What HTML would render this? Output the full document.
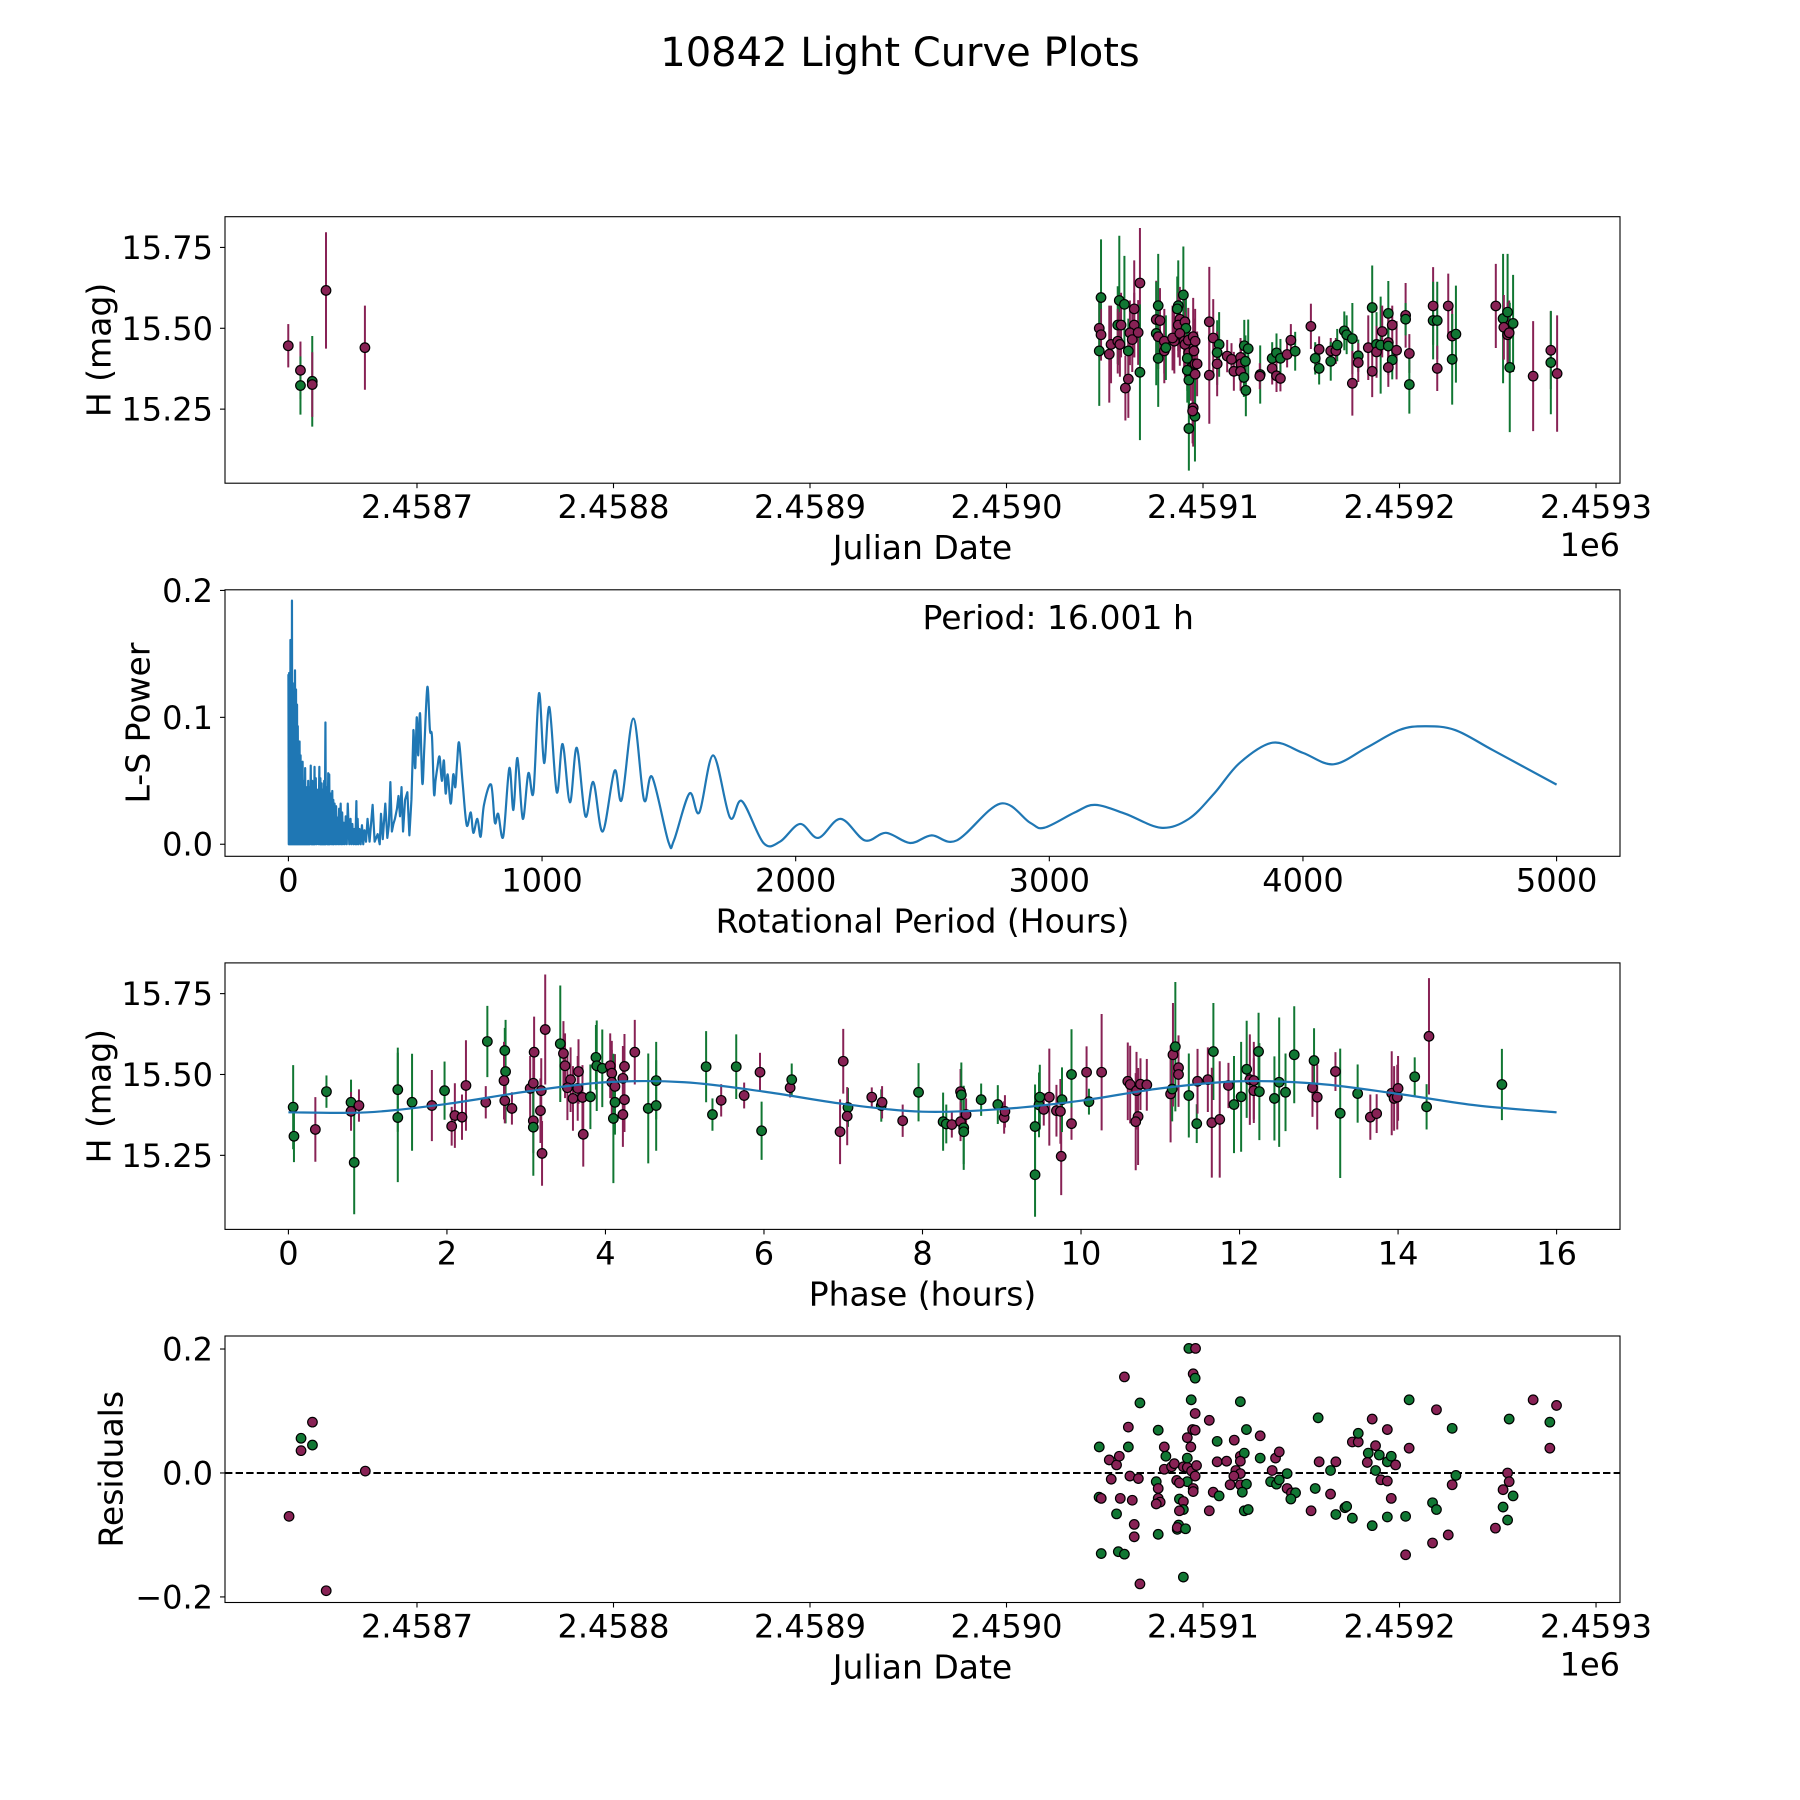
<!DOCTYPE html>
<html><head><meta charset="utf-8"><title>10842 Light Curve Plots</title>
<style>
html,body{margin:0;padding:0;background:#fff;}
svg{display:block;font-family:"DejaVu Sans","Liberation Sans",sans-serif;}
</style></head>
<body>
<svg id="fig" xmlns="http://www.w3.org/2000/svg" width="1800" height="1800" viewBox="0 0 1800 1800">
<rect x="0" y="0" width="1800" height="1800" fill="#fff"/>
<text x="900" y="66" font-size="40" text-anchor="middle" fill="#000">10842 Light Curve Plots</text>
</svg>
<script>
// ---------- DATA ----------
const lcDay = [-365.5,-359.3,-359.3,-353.3,-353.3,-346.3,-326.5,
48.1,47.2,48.1,47.2,52.3,53.2,57.4,56.6,58.3,56.6,57.7,60,62,60.5,62,65,65,62.8,64,67,67.9,67.9,
77.2,76.2,78.1,76.2,77.2,77.2,80.3,80.3,81.1,85.4,84.5,87.4,86.9,88.2,87.4,90.8,91.3,88.2,90.4,90.8,90,
92.5,95,96,92.7,95.4,92,93.7,95.9,97,92,92.8,96,95,95.9,92.8,94.7,103.2,103.2,105.2,108.2,107.2,107.2,
112.3,114.5,115.7,121,123,119.1,119.3,121.6,119.1,120.8,121.8,129.1,128.9,135.2,137.4,135.2,137.4,139.4,139.4,
142.8,144.7,146.9,154.9,157.1,159.1,159.1,165,165,167.6,
168.3,171.9,173.1,176,176,179,179,184.1,186.1,186.1,188.3,188.3,190.4,191.2,194.3,194.3,194.3,196.3,196.3,194.3,
198.5,203.1,203.1,205,205,217.1,217.1,219.2,219.2,224.8,226.8,228.7,226.8,249,252.7,255,253.1,255,255.8,257.8,256.1,
268,277,277,280.2];
const lcMag = [15.446,15.37,15.323,15.336,15.326,15.617,15.44,
15.595,15.50,15.48,15.43,15.42,15.45,15.586,15.51,15.51,15.46,15.45,15.574,15.43,15.315,15.343,15.56,15.51,15.486,15.465,15.487,15.64,15.364,
15.57,15.527,15.524,15.484,15.474,15.407,15.46,15.43,15.44,15.46,15.47,15.57,15.56,15.528,15.51,15.52,15.50,15.484,15.46,15.45,15.603,
15.463,15.474,15.46,15.424,15.43,15.407,15.376,15.39,15.39,15.37,15.34,15.358,15.254,15.228,15.19,15.244,15.52,15.355,15.47,15.45,15.425,15.39,
15.414,15.404,15.367,15.446,15.437,15.41,15.39,15.398,15.367,15.348,15.308,15.357,15.352,15.407,15.424,15.376,15.353,15.345,15.407,
15.419,15.463,15.429,15.506,15.407,15.435,15.376,15.43,15.398,15.43,
15.448,15.492,15.48,15.468,15.33,15.415,15.394,15.44,15.564,15.367,15.45,15.427,15.448,15.49,15.546,15.456,15.445,15.51,15.402,15.379,
15.432,15.54,15.528,15.422,15.326,15.569,15.524,15.524,15.376,15.569,15.476,15.482,15.404,15.569,15.53,15.55,15.503,15.48,15.486,15.515,15.379,
15.352,15.432,15.394,15.36];
const lcErr = [0.067,0.089,0.09,0.14,0.1,0.18,0.13,
0.18,0.09,0.08,0.17,0.15,0.12,0.2,0.12,0.1,0.1,0.1,0.15,0.1,0.1,0.12,0.15,0.1,0.1,0.1,0.1,0.17,0.21,
0.16,0.12,0.1,0.16,0.1,0.15,0.1,0.1,0.1,0.1,0.1,0.14,0.1,0.1,0.1,0.1,0.1,0.1,0.1,0.1,0.15,
0.1,0.12,0.1,0.1,0.1,0.1,0.1,0.1,0.1,0.1,0.1,0.1,0.12,0.14,0.13,0.1,0.17,0.15,0.12,0.1,0.1,0.1,
0.05,0.05,0.06,0.08,0.09,0.06,0.06,0.08,0.06,0.06,0.08,0.09,0.04,0.05,0.06,0.05,0.05,0.04,0.06,
0.04,0.05,0.06,0.07,0.05,0.04,0.05,0.04,0.06,0.04,
0.05,0.06,0.06,0.11,0.1,0.05,0.06,0.1,0.13,0.08,0.1,0.08,0.15,0.08,0.1,0.1,0.06,0.06,0.06,0.06,
0.09,0.1,0.05,0.06,0.09,0.12,0.12,0.12,0.07,0.1,0.09,0.15,0.14,0.13,0.2,0.18,0.1,0.1,0.1,0.15,0.2,
0.17,0.12,0.16,0.18];
const lcBand = [0,0,1,1,0,0,0,
1,0,0,1,0,0,1,1,0,0,0,1,1,0,0,0,0,0,0,0,0,1,
1,0,0,1,0,1,0,0,1,0,0,1,1,0,0,0,1,0,0,0,1,
0,0,0,0,0,1,0,0,0,1,1,0,0,1,1,0,0,0,0,1,1,0,
0,0,0,1,1,0,0,1,0,1,1,1,0,1,1,0,0,0,1,
0,0,1,0,1,0,1,0,1,0,
1,1,1,1,0,1,0,0,1,0,1,0,1,0,1,0,1,0,1,0,
0,0,1,0,1,0,1,1,0,0,0,1,1,0,1,1,0,0,0,1,1,
0,0,1,0];

// Panel 2: Lomb-Scargle periodogram
const lsPeriod = [0,1.5,3,4.5,6,7,8,9,10.5,11.5,
12,13,14,15.5,17,18,19,20.5,22,24,
26,28,30,32,34,35.5,37,38.5,40,42,
44,46,48,50,52,54,56,58,60,63,
66,68,70,72,74,76,78,80,82,85,
88,91,94,96,98,100,103,105,108,111,
114,118,122,124,126,128,131,133,136,138,
141,143,146,148,151,154,157,159,161,163,
166,169,173,175,177,179,182,185,188,191,
194,197,200,203,206,209,212,215,218,222,
226,230,234,240,245,248,252,256,260,264,
268,270,273,276,280,285,290,295,300,306,
312,
320,332,340,352,360,365,372,382,390,396,402,408,414,420,428,434,440,446,452,460,469,477,485,493,500,506,512,519,528,536,548,558,566,574,580,587,596,605,613,620,628,640,650,658,665,673,687,703,719,729,745,758,771,799,814,827,847,871,887,903,924,946,966,988,1008,1029,1058,1081,1110,1137,1171,1202,1239,1286,1314,1360,1402,1434,1498,1520,1581,1620,1675,1741,1788,1873,1938,2017,2089,2177,2273,2356,2451,2536,2635,2806,2924,2980,3100,3180,3300,3440,3550,3650,3750,3880,4000,4120,4250,4380,4480,4600,4750,5000];
const lsPower = [0.134,0,0.135,0,0.12,0,0.161,0,0.161,0,
0.15,0,0.192,0,0.127,0,0.11,0,0.093,0,
0.137,0,0.122,0,0.11,0,0.093,0,0.08,0,
0.081,0,0.07,0,0.058,0,0.065,0,0.05,0,
0.06,0,0.037,0,0.045,0,0.05,0,0.045,0,
0.062,0,0.05,0,0.03,0,0.061,0,0.052,0,
0.043,0,0.061,0,0.052,0,0.048,0,0.043,0,
0.05,0,0.096,0,0.045,0,0.056,0,0.055,0,
0.04,0,0.042,0,0.035,0,0.032,0,0.03,0,
0.021,0,0.028,0,0.032,0,0.025,0,0.017,0,
0.022,0,0.032,0,0.02,0,0.016,0,0.012,0,
0.034,0,0.02,0,0.012,0,0.015,0,0.011,0.002,
0.02,
0.002,0.031,0.002,0.008,0.0,0.024,0.004,0.032,0.005,0.015,0.049,0.01,0.016,0.02,0.028,0.038,0.022,0.045,0.01,0.035,0.041,0.007,0.035,0.09,0.06,0.1,0.07,0.103,0.048,0.077,0.124,0.09,0.085,0.04,0.05,0.06,0.069,0.05,0.066,0.04,0.055,0.032,0.055,0.045,0.064,0.08,0.048,0.015,0.025,0.009,0.02,0.006,0.031,0.047,0.017,0.024,0.006,0.06,0.027,0.068,0.02,0.056,0.041,0.119,0.064,0.108,0.041,0.079,0.033,0.076,0.022,0.049,0.01,0.058,0.035,0.099,0.035,0.053,0.002,0.003,0.04,0.025,0.07,0.021,0.034,0.001,0.002,0.016,0.005,0.02,0.003,0.009,0.001,0.007,0.003,0.032,0.017,0.013,0.025,0.031,0.024,0.013,0.02,0.04,0.064,0.08,0.072,0.063,0.076,0.09,0.093,0.09,0.074,0.047];

// Panel 3
const phHour = [0.06,0.07,0.34,0.48,0.79,0.79,0.89,0.83,1.38,1.38,1.56,1.81,1.97,2.06,2.1,2.19,2.24,2.51,2.49,2.73,2.74,2.72,2.73,2.82,3.05,3.09,3.1,3.19,3.18,3.09,3.09,3.24,3.2,3.43,3.47,3.49,3.56,3.52,3.59,3.65,3.66,3.71,3.72,3.81,3.88,3.89,3.96,4.06,4.08,4.08,4.12,4.12,4.1,4.22,4.24,4.24,4.22,4.37,4.54,4.64,4.64,5.27,5.35,5.46,5.65,5.75,5.95,5.97,6.33,6.35,7.0,6.96,7.06,7.05,7.36,7.48,7.49,7.75,7.95,
8.26,8.3,8.37,8.48,8.49,8.48,8.55,8.52,8.52,8.74,8.95,9.03,9.04,9.42,9.42,9.47,9.48,9.53,9.6,9.69,9.74,9.75,9.76,9.88,9.88,10.1,10.07,10.26,10.59,10.62,10.7,10.72,10.69,10.75,10.83,11.13,11.15,11.16,11.19,11.23,11.23,11.36,11.46,11.47,11.6,11.67,11.65,11.75,11.86,11.93,12.02,12.09,12.13,12.18,12.18,12.24,12.25,12.44,12.5,12.58,12.69,12.94,12.92,12.98,13.21,13.27,13.49,13.65,13.73,13.92,13.95,14.0,13.99,14.21,14.36,14.39,15.31];
const phMag = [15.399,15.309,15.33,15.447,15.414,15.386,15.404,15.228,15.453,15.367,15.414,15.404,15.45,15.34,15.373,15.368,15.466,15.602,15.414,15.574,15.509,15.481,15.419,15.395,15.457,15.473,15.569,15.45,15.388,15.357,15.337,15.639,15.256,15.595,15.565,15.527,15.484,15.459,15.426,15.457,15.509,15.429,15.315,15.431,15.553,15.527,15.519,15.527,15.504,15.476,15.463,15.414,15.364,15.488,15.525,15.422,15.376,15.569,15.395,15.481,15.404,15.524,15.376,15.42,15.524,15.435,15.507,15.326,15.459,15.484,15.541,15.323,15.398,15.371,15.43,15.404,15.414,15.357,15.445,
15.354,15.347,15.345,15.447,15.437,15.354,15.376,15.335,15.323,15.422,15.407,15.367,15.386,15.339,15.19,15.406,15.43,15.392,15.43,15.388,15.386,15.247,15.422,15.5,15.348,15.416,15.507,15.507,15.479,15.469,15.45,15.37,15.354,15.47,15.468,15.44,15.455,15.561,15.586,15.521,15.5,15.435,15.348,15.479,15.484,15.571,15.351,15.361,15.466,15.407,15.431,15.516,15.484,15.481,15.45,15.571,15.447,15.426,15.476,15.445,15.561,15.543,15.459,15.43,15.509,15.38,15.441,15.368,15.379,15.442,15.426,15.457,15.43,15.493,15.4,15.618,15.469];
const phErr = [0.13,0.08,0.1,0.05,0.07,0.06,0.05,0.16,0.13,0.2,0.15,0.11,0.09,0.06,0.1,0.07,0.14,0.11,0.05,0.07,0.16,0.12,0.07,0.05,0.1,0.1,0.11,0.1,0.1,0.1,0.15,0.17,0.1,0.18,0.1,0.1,0.1,0.1,0.1,0.1,0.1,0.1,0.1,0.1,0.1,0.14,0.12,0.1,0.1,0.1,0.1,0.1,0.2,0.1,0.1,0.1,0.1,0.1,0.17,0.12,0.14,0.11,0.05,0.05,0.1,0.04,0.06,0.09,0.03,0.05,0.1,0.1,0.06,0.09,0.03,0.05,0.05,0.05,0.09,
0.09,0.06,0.04,0.07,0.1,0.06,0.05,0.13,0.1,0.05,0.06,0.05,0.05,0.13,0.13,0.1,0.1,0.05,0.15,0.08,0.1,0.12,0.1,0.14,0.05,0.04,0.08,0.18,0.12,0.12,0.12,0.15,0.15,0.08,0.08,0.15,0.1,0.16,0.2,0.1,0.1,0.13,0.06,0.1,0.1,0.15,0.17,0.18,0.07,0.15,0.17,0.15,0.14,0.12,0.1,0.12,0.15,0.13,0.2,0.12,0.15,0.1,0.09,0.1,0.06,0.2,0.09,0.07,0.06,0.13,0.1,0.1,0.1,0.06,0.07,0.18,0.11];
const phBand = [1,1,0,1,1,0,0,1,1,1,1,0,1,0,0,0,0,1,0,1,1,0,0,0,0,0,0,0,0,0,1,0,0,1,0,0,0,0,0,0,0,0,0,1,1,1,1,0,0,0,0,1,1,0,0,0,0,0,1,1,1,1,1,0,1,0,0,1,0,1,0,0,1,0,0,1,0,0,1,
1,1,0,0,1,0,0,1,1,1,1,0,0,1,1,1,1,0,0,0,0,0,1,1,0,1,0,0,0,0,0,0,0,0,0,0,1,0,1,0,0,1,1,0,0,1,0,0,0,1,1,1,0,0,0,1,1,1,1,1,1,1,0,0,0,1,1,0,0,0,0,0,0,1,1,0,1];
const modelPhase = [0,1,2,3,4,5,6,7,8,9,10,11,12,13,14,15,16];
const modelMag = [15.383,15.383,15.409,15.447,15.476,15.476,15.447,15.409,15.385,15.393,15.419,15.457,15.479,15.471,15.44,15.404,15.383];

// Panel 4
const resDay = [-365.1,-359,-359,-353.2,-353.2,-346.2,-326.3,
47.2,52.3,56,57.4,62,62,60,53.3,62.8,67.1,47.1,48.2,57.9,64,56,65,65,48.2,56.9,60,67.9,67.9,77.2,80.3,81.1,80.3,84,85.4,90,92,92,92,93.8,94.7,96,96,94,95,96,92.8,96.2,94.2,96.7,96,92,86.6,88,95,95,76.2,77.2,77.2,78.2,76.2,88,90,90,88,87.6,86.9,86.9,91.1,77.2,90,
103.2,103.2,105.2,108.2,107.2,107.2,112,115.9,119,122.1,119,121,119,116.7,119,115.7,113.8,119,122.1,120,121,123,129.1,129.1,136.9,138.8,135.2,142.8,134.4,137.4,138.8,142.8,145,147.1,144.7,158.6,159.1,157.1,155,164.9,167.6,164.9,167.6,
172.2,173.1,176,176,179,179,186.1,184.1,183.6,187.8,189.7,187.8,190.5,193.8,193.8,195.8,198,193.8,186.1,193.8,195.8,204.9,204.9,203.1,203.1,218.8,226.8,228.7,226.8,216.8,218.8,216.8,224.8,255.8,255,255.8,252.7,257.8,252.7,255,248.8,268,279.9,276.5,276.5];
const resVal = [-0.07,0.056,0.036,0.082,0.045,-0.19,0.003,
0.042,0.021,0.013,0.027,0.042,0.074,0.155,-0.01,-0.005,-0.009,-0.039,-0.041,-0.041,-0.044,-0.066,-0.083,-0.103,-0.13,-0.127,-0.131,-0.179,0.113,0.069,0.042,0.027,0.006,0.01,0.015,0.01,0.009,0.024,0.057,0.042,0.07,0.069,0.096,0.118,0.16,0.153,0.201,0.201,0.003,0.012,-0.005,-0.014,-0.012,-0.016,-0.025,-0.03,-0.014,-0.025,-0.041,-0.047,-0.05,-0.042,-0.046,-0.059,-0.061,-0.084,-0.091,-0.088,-0.09,-0.099,-0.168,
0.085,-0.061,-0.031,-0.037,0.051,0.018,0.019,0.053,0.115,0.07,0.027,0.032,0.019,0.004,-0.001,-0.005,-0.019,-0.019,-0.018,-0.031,-0.061,-0.059,0.06,0.024,0.024,0.034,0.004,-0.001,-0.014,-0.018,-0.011,-0.025,-0.032,-0.032,-0.042,0.089,0.018,-0.025,-0.061,0.004,0.018,-0.034,-0.067,
-0.056,-0.054,-0.073,0.05,0.05,0.064,0.087,0.032,0.017,0.044,0.029,0.004,-0.011,-0.013,0.018,0.027,0.013,0.07,-0.085,-0.071,-0.041,0.118,0.04,-0.07,-0.132,0.102,0.072,-0.004,-0.019,-0.048,-0.059,-0.113,-0.1,0.087,0,-0.014,-0.027,-0.037,-0.055,-0.076,-0.089,0.118,0.109,0.082,0.04];
const resBand = [0,1,0,0,1,0,0,
1,0,0,0,1,0,0,0,0,0,1,0,0,0,1,0,0,1,1,1,0,1,1,0,1,0,0,0,0,0,1,0,0,0,0,0,1,0,1,1,0,0,0,0,1,0,0,0,0,1,0,0,0,0,1,0,1,0,1,1,0,1,1,1,
0,0,0,1,1,0,0,0,1,1,0,1,0,0,0,0,0,0,1,1,1,1,0,1,0,0,0,1,1,1,1,0,0,1,1,1,0,1,0,1,0,0,1,
1,1,1,0,0,1,0,1,0,0,1,1,0,0,1,1,0,0,1,1,0,1,0,1,0,0,1,1,0,1,1,0,0,1,0,0,0,1,1,1,0,0,0,1,0];

// Tick arrays
const jdTickVals = [-300,-200,-100,0,100,200,300];
const jdTickLabels = ["2.4587","2.4588","2.4589","2.4590","2.4591","2.4592","2.4593"];
const magTickVals = [15.25,15.5,15.75];
const magTickLabels = ["15.25","15.50","15.75"];
const lsXTickVals = [0,1000,2000,3000,4000,5000];
const lsYTickVals = [0,0.1,0.2];
const lsYTickLabels = ["0.0","0.1","0.2"];
const phTickVals = [0,2,4,6,8,10,12,14,16];
const resTickVals = [-0.2,0,0.2];
const resTickLabels = ["\u22120.2","0.0","0.2"];

// ---------- RENDER ----------
const NS = "http://www.w3.org/2000/svg";
const svg = document.getElementById('fig');
const L = 225, R = 1620, H = 266.5;
const TOPS = [216.7, 589.8, 962.9, 1336.0];
const COLORS = ["#882255", "#117733"];
function mk(tag, attrs, parent) {
  const e = document.createElementNS(NS, tag);
  for (const k in attrs) e.setAttribute(k, attrs[k]);
  (parent || svg).appendChild(e);
  return e;
}
function scale(d0, d1, r0, r1) { return v => r0 + (v - d0) / (d1 - d0) * (r1 - r0); }
function axesFrame(i, name) {
  const g = mk('g', {});
  
  
  return g;
}
function spines(g, top) {
  const r = mk('rect', {x: L, y: top, width: R - L, height: H, fill: 'none', stroke: '#000', 'stroke-width': 1.1}, g);
  
  
}
function xTicks(g, top, vals, labels, sx) {
  const bot = top + H;
  vals.forEach((v, k) => {
    const x = sx(v);
    mk('line', {x1: x, x2: x, y1: bot, y2: bot + 5, stroke: '#000', 'stroke-width': 1.1}, g);
    const t = mk('text', {x: x, y: bot + 35, 'font-size': 32, 'text-anchor': 'middle', fill: '#000'}, g);
    
    
    t.textContent = labels[k];
  });
}
function yTicks(g, vals, labels, sy) {
  vals.forEach((v, k) => {
    const y = sy(v);
    mk('line', {x1: L - 5, x2: L, y1: y, y2: y, stroke: '#000', 'stroke-width': 1.1}, g);
    const t = mk('text', {x: L - 12, y: y + 11.5, 'font-size': 32, 'text-anchor': 'end', fill: '#000'}, g);
    
    
    t.textContent = labels[k];
  });
}
function xLabel(g, top, txt, name) {
  const t = mk('text', {x: (L + R) / 2, y: top + H + 76, 'font-size': 33, 'text-anchor': 'middle', fill: '#000'}, g);
  
  
  t.textContent = txt;
}
function yLabel(g, top, x, txt, name) {
  const cy = top + H / 2;
  const t = mk('text', {x: x, y: cy, 'font-size': 33, 'text-anchor': 'middle', 'dominant-baseline': 'central', fill: '#000', transform: 'rotate(-90 ' + x + ' ' + cy + ')'}, g);
  
  
  t.textContent = txt;
}
function offsetText(g, top, name) {
  const t = mk('text', {x: R, y: top + H + 73, 'font-size': 32, 'text-anchor': 'end', fill: '#000'}, g);
  
  
  t.textContent = '1e6';
}
function clipFor(top, id) {
  const defs = mk('defs', {});
  const cp = mk('clipPath', {id: id}, defs);
  mk('rect', {x: L, y: top, width: R - L, height: H}, cp);
}
function errorPoints(g, xs, ys, es, bands, sx, sy, nameBar, nameDot) {
  const bars = mk('g', {}, g);
  
  
  xs.forEach((v, k) => {
    const x = sx(v);
    const l = mk('line', {x1: x, x2: x, y1: sy(ys[k] - es[k]), y2: sy(ys[k] + es[k]), stroke: COLORS[bands[k]], 'stroke-width': 2}, bars);
    
    
  });
  const dots = mk('g', {}, g);
  
  
  xs.forEach((v, k) => {
    const c = mk('circle', {cx: sx(v), cy: sy(ys[k]), r: 4.8, fill: COLORS[bands[k]], stroke: '#000', 'stroke-width': 1.2}, dots);
    
    
  });
}
function smoothPath(pts) {
  let d = 'M' + pts[0][0] + ',' + pts[0][1];
  for (let i = 0; i < pts.length - 1; i++) {
    const p0 = pts[Math.max(0, i - 1)], p1 = pts[i], p2 = pts[i + 1], p3 = pts[Math.min(pts.length - 1, i + 2)];
    const c1x = p1[0] + (p2[0] - p0[0]) / 6, c1y = p1[1] + (p2[1] - p0[1]) / 6;
    const c2x = p2[0] - (p3[0] - p1[0]) / 6, c2y = p2[1] - (p3[1] - p1[1]) / 6;
    d += ' C' + c1x + ',' + c1y + ' ' + c2x + ',' + c2y + ' ' + p2[0] + ',' + p2[1];
  }
  return d;
}

// ---- Panel 1 ----
(function () {
  const top = TOPS[0];
  const g = axesFrame(0, 'light-curve-panel');
  const sx = scale(-397.7, 312.2, L, R);
  const sy = scale(15.021, 15.845, top + H, top);
  clipFor(top, 'c1');
  const data = mk('g', {'clip-path': 'url(#c1)'}, g);
  
  
  errorPoints(data, lcDay, lcMag, lcErr, lcBand, sx, sy, 'mag-error-bar', 'mag-point');
  spines(g, top);
  xTicks(g, top, jdTickVals, jdTickLabels, sx);
  yTicks(g, magTickVals, magTickLabels, sy);
  xLabel(g, top, 'Julian Date', 'x-axis-title');
  yLabel(g, top, 99, 'H (mag)', 'y-axis-title');
  offsetText(g, top, 'x-offset-label');
})();

// ---- Panel 2 ----
(function () {
  const top = TOPS[1];
  const g = axesFrame(1, 'periodogram-panel');
  const sx = scale(-250, 5250, L, R);
  const sy = scale(-0.0095, 0.2005, top + H, top);
  clipFor(top, 'c2');
  const pts = lsPeriod.map((p, k) => [sx(p), sy(lsPower[k])]);
  const dense = pts.filter((p, k) => lsPeriod[k] <= 500);
  const smooth = pts.filter((p, k) => lsPeriod[k] >= 493);
  const d = 'M' + dense.map(p => p[0] + ',' + p[1]).join(' L');
  const pl = mk('path', {d: d, fill: 'none', stroke: '#1f77b4', 'stroke-width': 2.2, 'stroke-linejoin': 'round', 'clip-path': 'url(#c2)'}, g);
  
  
  const p2 = mk('path', {d: smoothPath(smooth), fill: 'none', stroke: '#1f77b4', 'stroke-width': 2.2, 'clip-path': 'url(#c2)'}, g);
  
  
  spines(g, top);
  xTicks(g, top, lsXTickVals, lsXTickVals.map(String), sx);
  yTicks(g, lsYTickVals, lsYTickLabels, sy);
  xLabel(g, top, 'Rotational Period (Hours)', 'x-axis-title');
  yLabel(g, top, 138, 'L-S Power', 'y-axis-title');
  const t = mk('text', {x: (L + R) / 2, y: top + 39, 'font-size': 33, fill: '#000'}, g);
  
  
  t.textContent = 'Period: 16.001 h';
})();

// ---- Panel 3 ----
(function () {
  const top = TOPS[2];
  const g = axesFrame(2, 'phase-panel');
  const sx = scale(-0.8, 16.8, L, R);
  const sy = scale(15.021, 15.845, top + H, top);
  clipFor(top, 'c3');
  const data = mk('g', {'clip-path': 'url(#c3)'}, g);
  
  
  errorPoints(data, phHour, phMag, phErr, phBand, sx, sy, 'phase-error-bar', 'phase-point');
  const mp = modelPhase.map((p, k) => [sx(p), sy(modelMag[k])]);
  const m = mk('path', {d: smoothPath(mp), fill: 'none', stroke: '#1f77b4', 'stroke-width': 2.2}, data);
  
  
  spines(g, top);
  xTicks(g, top, phTickVals, phTickVals.map(String), sx);
  yTicks(g, magTickVals, magTickLabels, sy);
  xLabel(g, top, 'Phase (hours)', 'x-axis-title');
  yLabel(g, top, 99, 'H (mag)', 'y-axis-title');
})();

// ---- Panel 4 ----
(function () {
  const top = TOPS[3];
  const g = axesFrame(3, 'residuals-panel');
  const sx = scale(-397.7, 312.2, L, R);
  const sy = scale(-0.209, 0.221, top + H, top);
  clipFor(top, 'c4');
  const z = mk('line', {x1: L, x2: R, y1: sy(0), y2: sy(0), stroke: '#000', 'stroke-width': 2, 'stroke-dasharray': '7.4,3.2'}, g);
  
  
  const dots = mk('g', {'clip-path': 'url(#c4)'}, g);
  
  
  resDay.forEach((v, k) => {
    const c = mk('circle', {cx: sx(v), cy: sy(resVal[k]), r: 4.8, fill: COLORS[resBand[k]], stroke: '#000', 'stroke-width': 1.2}, dots);
    
    
  });
  spines(g, top);
  xTicks(g, top, jdTickVals, jdTickLabels, sx);
  yTicks(g, resTickVals, resTickLabels, sy);
  xLabel(g, top, 'Julian Date', 'x-axis-title');
  yLabel(g, top, 111, 'Residuals', 'y-axis-title');
  offsetText(g, top, 'x-offset-label');
})();
</script>
</body></html>
